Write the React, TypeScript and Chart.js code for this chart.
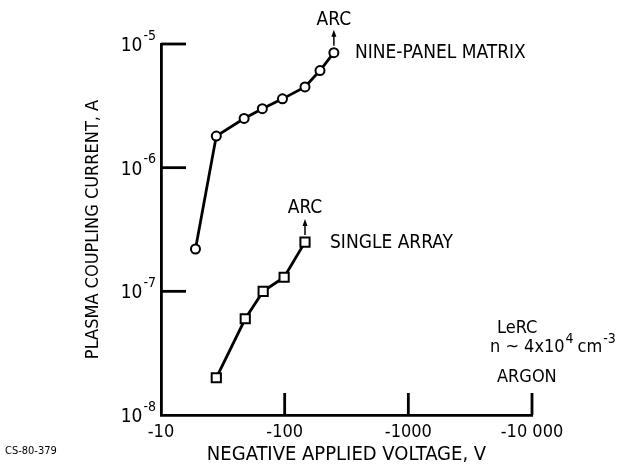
import React, { useEffect, useRef } from 'react';
import { Chart, registerables } from 'chart.js';

Chart.register(...registerables);

// ---- data ----
const xTickValues = [10, 100, 1000, 10000];
const xTickLabels = ['-10', '-100', '-1000', '-10 000'];
const yTickValues = [1e-8, 1e-7, 1e-6, 1e-5];
const yTickExponents = ['-8', '-7', '-6', '-5'];

const ninePanelVoltage = [19, 28, 47, 66, 96, 146, 193, 250];
const ninePanelCurrent = [2.2e-7, 1.8e-6, 2.5e-6, 3.0e-6, 3.6e-6, 4.5e-6, 6.1e-6, 8.5e-6];

const singleArrayVoltage = [28, 48, 67, 99, 146];
const singleArrayCurrent = [2.0e-8, 6.0e-8, 1.0e-7, 1.3e-7, 2.5e-7];

const FONT = "'Liberation Sans Narrow', 'DejaVu Sans Condensed', 'Arial Narrow', sans-serif";

const overlayPlugin = {
  id: 'overlay',
  afterDraw(chart: any) {
    const ctx = chart.ctx as CanvasRenderingContext2D;
    const xs = chart.scales.x;
    const ys = chart.scales.y;
    const area = chart.chartArea;
    ctx.save();
    ctx.strokeStyle = '#000';
    ctx.fillStyle = '#000';
    ctx.lineWidth = 2.8;
    const line = (x1: number, y1: number, x2: number, y2: number) => {
      ctx.beginPath();
      ctx.moveTo(x1, y1);
      ctx.lineTo(x2, y2);
      ctx.stroke();
    };
    // inward tick marks
    yTickValues.slice(1).forEach((v) => {
      const py = ys.getPixelForValue(v);
      line(area.left, py, area.left + 25, py);
    });
    xTickValues.slice(1).forEach((v) => {
      const px = xs.getPixelForValue(v);
      line(px, area.bottom, px, area.bottom - 22);
    });

    // y tick labels 10^n
    ctx.textBaseline = 'middle';
    ctx.textAlign = 'left';
    yTickValues.forEach((v, i) => {
      const py = ys.getPixelForValue(v);
      ctx.font = `19px ${FONT}`;
      const baseW = ctx.measureText('10').width;
      ctx.font = `14px ${FONT}`;
      const expW = ctx.measureText(yTickExponents[i]).width;
      const x0 = area.left - 6 - expW - baseW;
      ctx.font = `19px ${FONT}`;
      ctx.fillText('10', x0, py + 2);
      ctx.font = `14px ${FONT}`;
      ctx.fillText(yTickExponents[i], x0 + baseW + 1, py - 8);
    });

    const arrow = (px: number, py: number) => {
      ctx.lineWidth = 1.5;
      line(px, py - 7, px, py - 18);
      ctx.beginPath();
      ctx.moveTo(px, py - 23);
      ctx.lineTo(px - 2.5, py - 16);
      ctx.lineTo(px + 2.5, py - 16);
      ctx.closePath();
      ctx.fill();
    };

    // nine-panel annotations
    const n = ninePanelVoltage.length - 1;
    const npx = xs.getPixelForValue(ninePanelVoltage[n]);
    const npy = ys.getPixelForValue(ninePanelCurrent[n]);
    arrow(npx, npy);
    ctx.font = `19px ${FONT}`;
    ctx.textAlign = 'center';
    ctx.fillText('ARC', npx, npy - 33);
    ctx.textAlign = 'left';
    ctx.fillText('NINE-PANEL MATRIX', npx + 21, npy);

    // single array annotations
    const m = singleArrayVoltage.length - 1;
    const spx = xs.getPixelForValue(singleArrayVoltage[m]);
    const spy = ys.getPixelForValue(singleArrayCurrent[m]);
    arrow(spx, spy);
    ctx.textAlign = 'center';
    ctx.fillText('ARC', spx, spy - 34);
    ctx.textAlign = 'left';
    ctx.fillText('SINGLE ARRAY', spx + 25, spy + 1);

    // LeRC block
    const bx = area.right - 35;
    ctx.font = `18px ${FONT}`;
    ctx.fillText('LeRC', bx, 328);
    let cx = bx - 7;
    const t1 = 'n ~ 4x10';
    ctx.fillText(t1, cx, 347);
    cx += ctx.measureText(t1).width + 1;
    ctx.font = `14px ${FONT}`;
    ctx.fillText('4', cx, 339);
    cx += ctx.measureText('4').width + 4;
    ctx.font = `18px ${FONT}`;
    ctx.fillText('cm', cx, 347);
    cx += ctx.measureText('cm').width + 1;
    ctx.font = `14px ${FONT}`;
    ctx.fillText('-3', cx, 339);
    ctx.font = `18px ${FONT}`;
    ctx.fillText('ARGON', bx, 377);

    // figure id
    ctx.font = `11px ${FONT}`;
    ctx.fillText('CS-80-379', 5, 451);
    ctx.restore();
  },
};

export default function App() {
  const ref = useRef<HTMLCanvasElement | null>(null);
  useEffect(() => {
    if (!ref.current) return;
    const chart = new Chart(ref.current, {
      type: 'line',
      data: {
        datasets: [
          {
            label: 'NINE-PANEL MATRIX',
            data: ninePanelVoltage.map((v, i) => ({ x: v, y: ninePanelCurrent[i] })),
            borderColor: '#000',
            borderWidth: 2.8,
            pointStyle: 'circle',
            pointRadius: 4.5,
            pointBorderWidth: 2,
            pointBackgroundColor: '#fff',
            pointBorderColor: '#000',
            tension: 0,
          },
          {
            label: 'SINGLE ARRAY',
            data: singleArrayVoltage.map((v, i) => ({ x: v, y: singleArrayCurrent[i] })),
            borderColor: '#000',
            borderWidth: 2.8,
            pointStyle: 'rect',
            pointRadius: 6.5,
            pointBorderWidth: 2,
            pointBackgroundColor: '#fff',
            pointBorderColor: '#000',
            tension: 0,
          },
        ],
      },
      options: {
        animation: false,
        responsive: false,
        devicePixelRatio: 1,
        layout: { padding: { left: 83, top: 44, right: 103, bottom: 3 } },
        plugins: { legend: { display: false }, tooltip: { enabled: false } },
        scales: {
          x: {
            type: 'logarithmic',
            min: 10,
            max: 10000,
            afterBuildTicks: (s: any) => {
              s.ticks = xTickValues.map((v) => ({ value: v }));
            },
            afterFit: (s: any) => {
              s.height = 52;
            },
            grid: { display: false, drawTicks: false },
            border: { display: true, color: '#000', width: 2.8 },
            ticks: {
              color: '#000',
              font: { family: FONT, size: 18 },
              padding: 7,
              maxRotation: 0,
              autoSkip: false,
              callback: (_v: any, i: number) => xTickLabels[i],
            },
            title: {
              display: true,
              text: 'NEGATIVE APPLIED VOLTAGE, V',
              color: '#000',
              font: { family: FONT, size: 20 },
              padding: 0,
            },
          },
          y: {
            type: 'logarithmic',
            min: 1e-8,
            max: 1e-5,
            afterBuildTicks: (s: any) => {
              s.ticks = yTickValues.map((v) => ({ value: v }));
            },
            afterFit: (s: any) => {
              s.width = 78;
            },
            grid: { display: false, drawTicks: false },
            border: { display: true, color: '#000', width: 2.8 },
            ticks: { display: false },
            title: {
              display: true,
              text: 'PLASMA COUPLING CURRENT, A',
              color: '#000',
              font: { family: FONT, size: 18 },
              padding: 0,
            },
          },
        },
      },
      plugins: [overlayPlugin],
    });
    return () => chart.destroy();
  }, []);
  return (
    <div style={{ position: 'absolute', left: 0, top: 0, width: 635, height: 470, background: '#fff' }}>
      <canvas ref={ref} width={635} height={470} style={{ display: 'block' }} />
    </div>
  );
}
